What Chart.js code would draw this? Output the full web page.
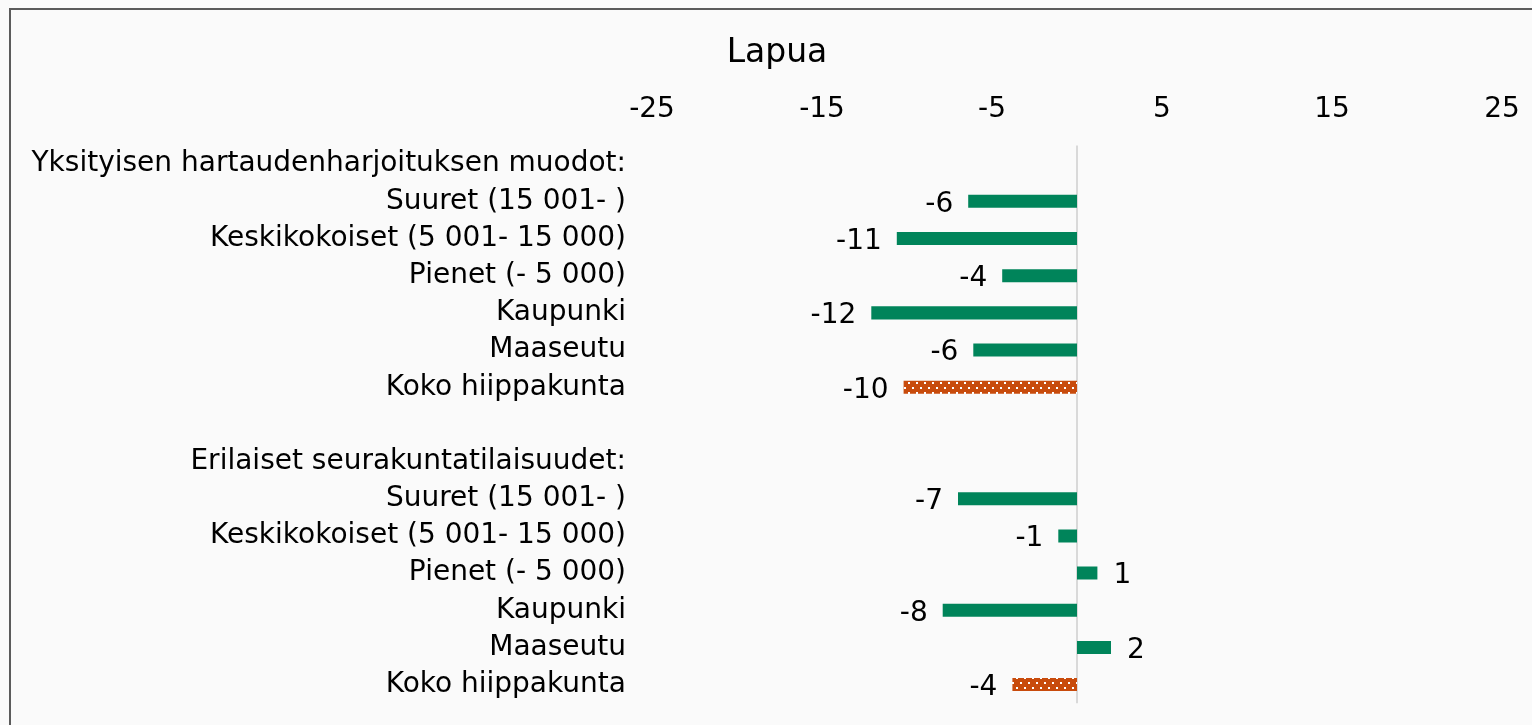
<!DOCTYPE html>
<html>
<head>
<meta charset="utf-8">
<script src="https://cdn.jsdelivr.net/npm/chart.js@4/dist/chart.umd.min.js"></script>
<style>
  html, body { margin: 0; padding: 0; background: #fafafa; overflow: hidden; }
  #frame { position: absolute; left: 9px; top: 8px; width: 1536px; height: 740px; border: 2px solid #5b5b5b; box-sizing: border-box; background: #fafafa; }
  canvas { display: block; }
</style>
</head>
<body>
<div id="frame"><canvas id="chart"></canvas></div>
<script>
const FONT = "'DejaVu Sans', Verdana, sans-serif";

const groupHeads = ['Yksityisen hartaudenharjoituksen muodot:', 'Erilaiset seurakuntatilaisuudet:'];
const subgroups = ['Suuret (15 001- )', 'Keskikokoiset (5 001- 15 000)', 'Pienet (- 5 000)', 'Kaupunki', 'Maaseutu', 'Koko hiippakunta'];
const privateValues = [-6.4, -10.6, -4.4, -12.1, -6.1, -10.2];
const eventValues = [-7.0, -1.1, 1.2, -7.9, 2.0, -3.8];
const xTicks = [-25, -15, -5, 5, 15, 25];

const green = '#00845a';
const orange = '#c84b0c';

// dotted fill for the diocese total
function dotPattern() {
  const c = document.createElement('canvas');
  c.width = 8; c.height = 10;
  const g = c.getContext('2d');
  g.fillStyle = orange;
  g.fillRect(0, 0, 8, 10);
  g.fillStyle = '#ffffff';
  g.fillRect(1, 2, 2, 2);
  g.fillRect(5, 7, 2, 2);
  return g.createPattern(c, 'repeat');
}

const labels = [groupHeads[0], ...subgroups, '', groupHeads[1], ...subgroups];
const values = [null, ...privateValues, null, null, ...eventValues];
const pattern = dotPattern();
const colors = labels.map(l => l === 'Koko hiippakunta' ? pattern : green);

const extras = {
  id: 'extras',
  beforeDatasetsDraw(chart) {
    const { ctx, chartArea, scales } = chart;
    const x0 = Math.round(scales.x.getPixelForValue(0));
    ctx.save();
    ctx.strokeStyle = '#d9d9d9';
    ctx.lineWidth = 2;
    ctx.beginPath();
    ctx.moveTo(x0, chartArea.top);
    ctx.lineTo(x0, chartArea.bottom);
    ctx.stroke();
    ctx.restore();
  },
  afterDatasetsDraw(chart) {
    const ctx = chart.ctx;
    const meta = chart.getDatasetMeta(0);
    ctx.save();
    ctx.font = `28px ${FONT}`;
    ctx.fillStyle = '#000';
    ctx.textBaseline = 'middle';
    meta.data.forEach((bar, i) => {
      const v = values[i];
      if (v === null) return;
      const neg = v < 0;
      ctx.textAlign = neg ? 'right' : 'left';
      ctx.fillText(String(Math.round(v)), bar.x + (neg ? -15 : 16), bar.y + 3);
    });
    ctx.restore();
  }
};

new Chart(document.getElementById('chart'), {
  type: 'bar',
  data: {
    labels: labels,
    datasets: [{
      data: values,
      backgroundColor: colors,
      barPercentage: 0.35,
      categoryPercentage: 1
    }]
  },
  options: {
    indexAxis: 'y',
    responsive: true,
    maintainAspectRatio: false,
    animation: false,
    layout: { padding: { left: 0, right: 0, top: 16, bottom: 37 } },
    plugins: {
      legend: { display: false },
      tooltip: { enabled: false },
      title: {
        display: true,
        text: 'Lapua',
        color: '#000',
        font: { family: FONT, size: 33, weight: 'normal' },
        padding: { top: 8, bottom: 0 }
      }
    },
    scales: {
      x: {
        position: 'top',
        min: -25,
        max: 25,
        afterBuildTicks: scale => { scale.ticks = xTicks.map(v => ({ value: v })); },
        grid: { display: false, drawTicks: false },
        border: { display: false },
        ticks: { color: '#000', font: { family: FONT, size: 28, lineHeight: 1 }, padding: 22, maxRotation: 0, autoSkip: false }
      },
      y: {
        afterFit: scale => { scale.width = 641; },
        grid: { display: false, drawTicks: false },
        border: { display: false },
        ticks: { color: '#000', font: { family: FONT, size: 28 }, padding: 26, autoSkip: false }
      },
      // empty right-hand margin axis, keeps the plot clear of the right edge
      yRight: {
        type: 'category',
        position: 'right',
        afterFit: scale => { scale.width = 41; },
        grid: { display: false, drawTicks: false },
        border: { display: false },
        ticks: { display: false }
      }
    }
  },
  plugins: [extras]
});
</script>
</body>
</html>
